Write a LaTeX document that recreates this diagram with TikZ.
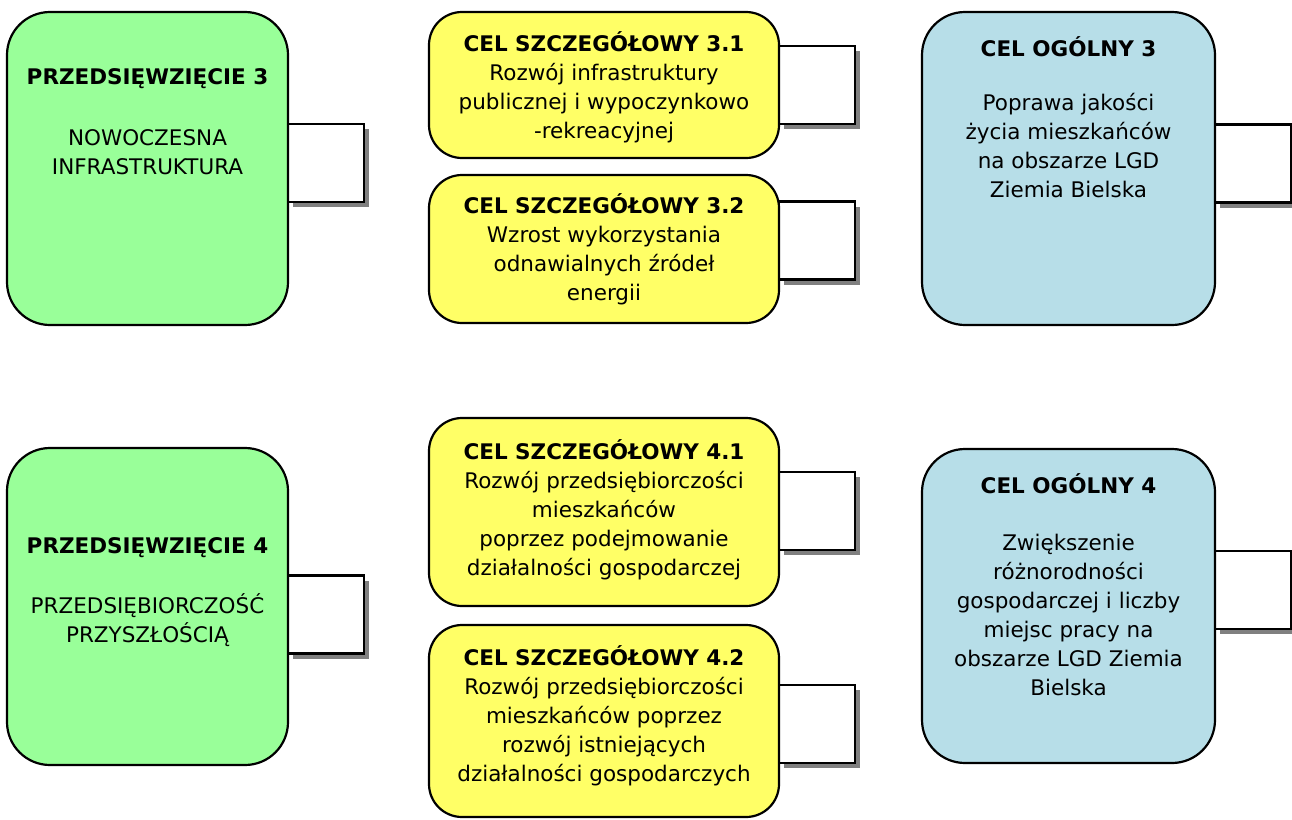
\documentclass[tikz,border=0pt]{standalone}
\usepackage{fontspec}
\setmainfont{DejaVu Sans}
\usetikzlibrary{shapes,shadows}

\definecolor{przgreen}{HTML}{99FF99}
\definecolor{celyellow}{HTML}{FFFF66}
\definecolor{celblue}{HTML}{B7DEE8}

\begin{document}
\begin{tikzpicture}[x=1pt, y=-1pt,
    goalbox/.style={rectangle, draw, line width=2.2pt, rounded corners=43pt, inner sep=0pt},
    przbox/.style={goalbox, fill=przgreen, minimum width=281pt},
    szbox/.style={goalbox, fill=celyellow, rounded corners=33pt, minimum width=350pt},
    ogbox/.style={goalbox, fill=celblue, minimum width=293pt},
    stub/.style={rectangle, draw, line width=2.2pt, fill=white, minimum width=76pt, minimum height=78pt, inner sep=0pt,
        drop shadow={shadow xshift=5pt, shadow yshift=-5pt, fill=gray, opacity=1}},
    txt/.style={anchor=north, align=center, inner sep=0pt, font=\fontsize{21.5}{29}\selectfont}
]
\useasboundingbox (0,0) rectangle (1292,819);

% Stubs behind the boxes
\node[stub] (p3s) at (326,163) {};
\node[stub] (y31s) at (817,85) {};
\node[stub] (y32s) at (817,240.5) {};
\node[stub] (c3s) at (1253,163.5) {};
\node[stub] (p4s) at (326,614.5) {};
\node[stub] (y41s) at (817,511) {};
\node[stub] (y42s) at (817,724) {};
\node[stub] (c4s) at (1253,590) {};

% Row 3
\node[przbox, minimum height=313pt] (p3) at (147.5,168.5) {};
\node[szbox, minimum height=146pt] (y31) at (604,85) {};
\node[szbox, minimum height=148pt] (y32) at (604,249) {};
\node[ogbox, minimum height=313pt] (c3) at (1068.5,168.5) {};

\node[txt] (p3t) at (147.5,63.7) {\strut\textbf{PRZEDSIĘWZIĘCIE 3}\\[32pt] NOWOCZESNA\\ INFRASTRUKTURA};
\node[txt] (y31t) at (604,30.7) {\strut\textbf{CEL SZCZEGÓŁOWY 3.1}\\ Rozwój infrastruktury\\ publicznej i wypoczynkowo\\ -rekreacyjnej};
\node[txt] (y32t) at (604,192.7) {\strut\textbf{CEL SZCZEGÓŁOWY 3.2}\\ Wzrost wykorzystania\\ odnawialnych źródeł\\ energii};
\node[txt] (c3t) at (1068.5,35.7) {\strut\textbf{CEL OGÓLNY 3}\\[25pt] Poprawa jakości\\ życia mieszkańców\\ na obszarze LGD\\ Ziemia Bielska};

% Row 4
\node[przbox, minimum height=317pt] (p4) at (147.5,606.5) {};
\node[szbox, minimum height=188pt] (y41) at (604,512) {};
\node[szbox, minimum height=192pt] (y42) at (604,721) {};
\node[ogbox, minimum height=314pt] (c4) at (1068.5,606) {};

\node[txt] (p4t) at (147.5,532.7) {\strut\textbf{PRZEDSIĘWZIĘCIE 4}\\[31pt] PRZEDSIĘBIORCZOŚĆ\\ PRZYSZŁOŚCIĄ};
\node[txt] (y41t) at (604,438.7) {\strut\textbf{CEL SZCZEGÓŁOWY 4.1}\\ Rozwój przedsiębiorczości\\ mieszkańców\\ poprzez podejmowanie\\ działalności gospodarczej};
\node[txt] (y42t) at (604,644.7) {\strut\textbf{CEL SZCZEGÓŁOWY 4.2}\\ Rozwój przedsiębiorczości\\ mieszkańców poprzez\\ rozwój istniejących\\ działalności gospodarczych};
\node[txt] (c4t) at (1068.5,472.7) {\strut\textbf{CEL OGÓLNY 4}\\[28pt] Zwiększenie\\ różnorodności\\ gospodarczej i liczby\\ miejsc pracy na\\ obszarze LGD Ziemia\\ Bielska};

\end{tikzpicture}
\end{document}
